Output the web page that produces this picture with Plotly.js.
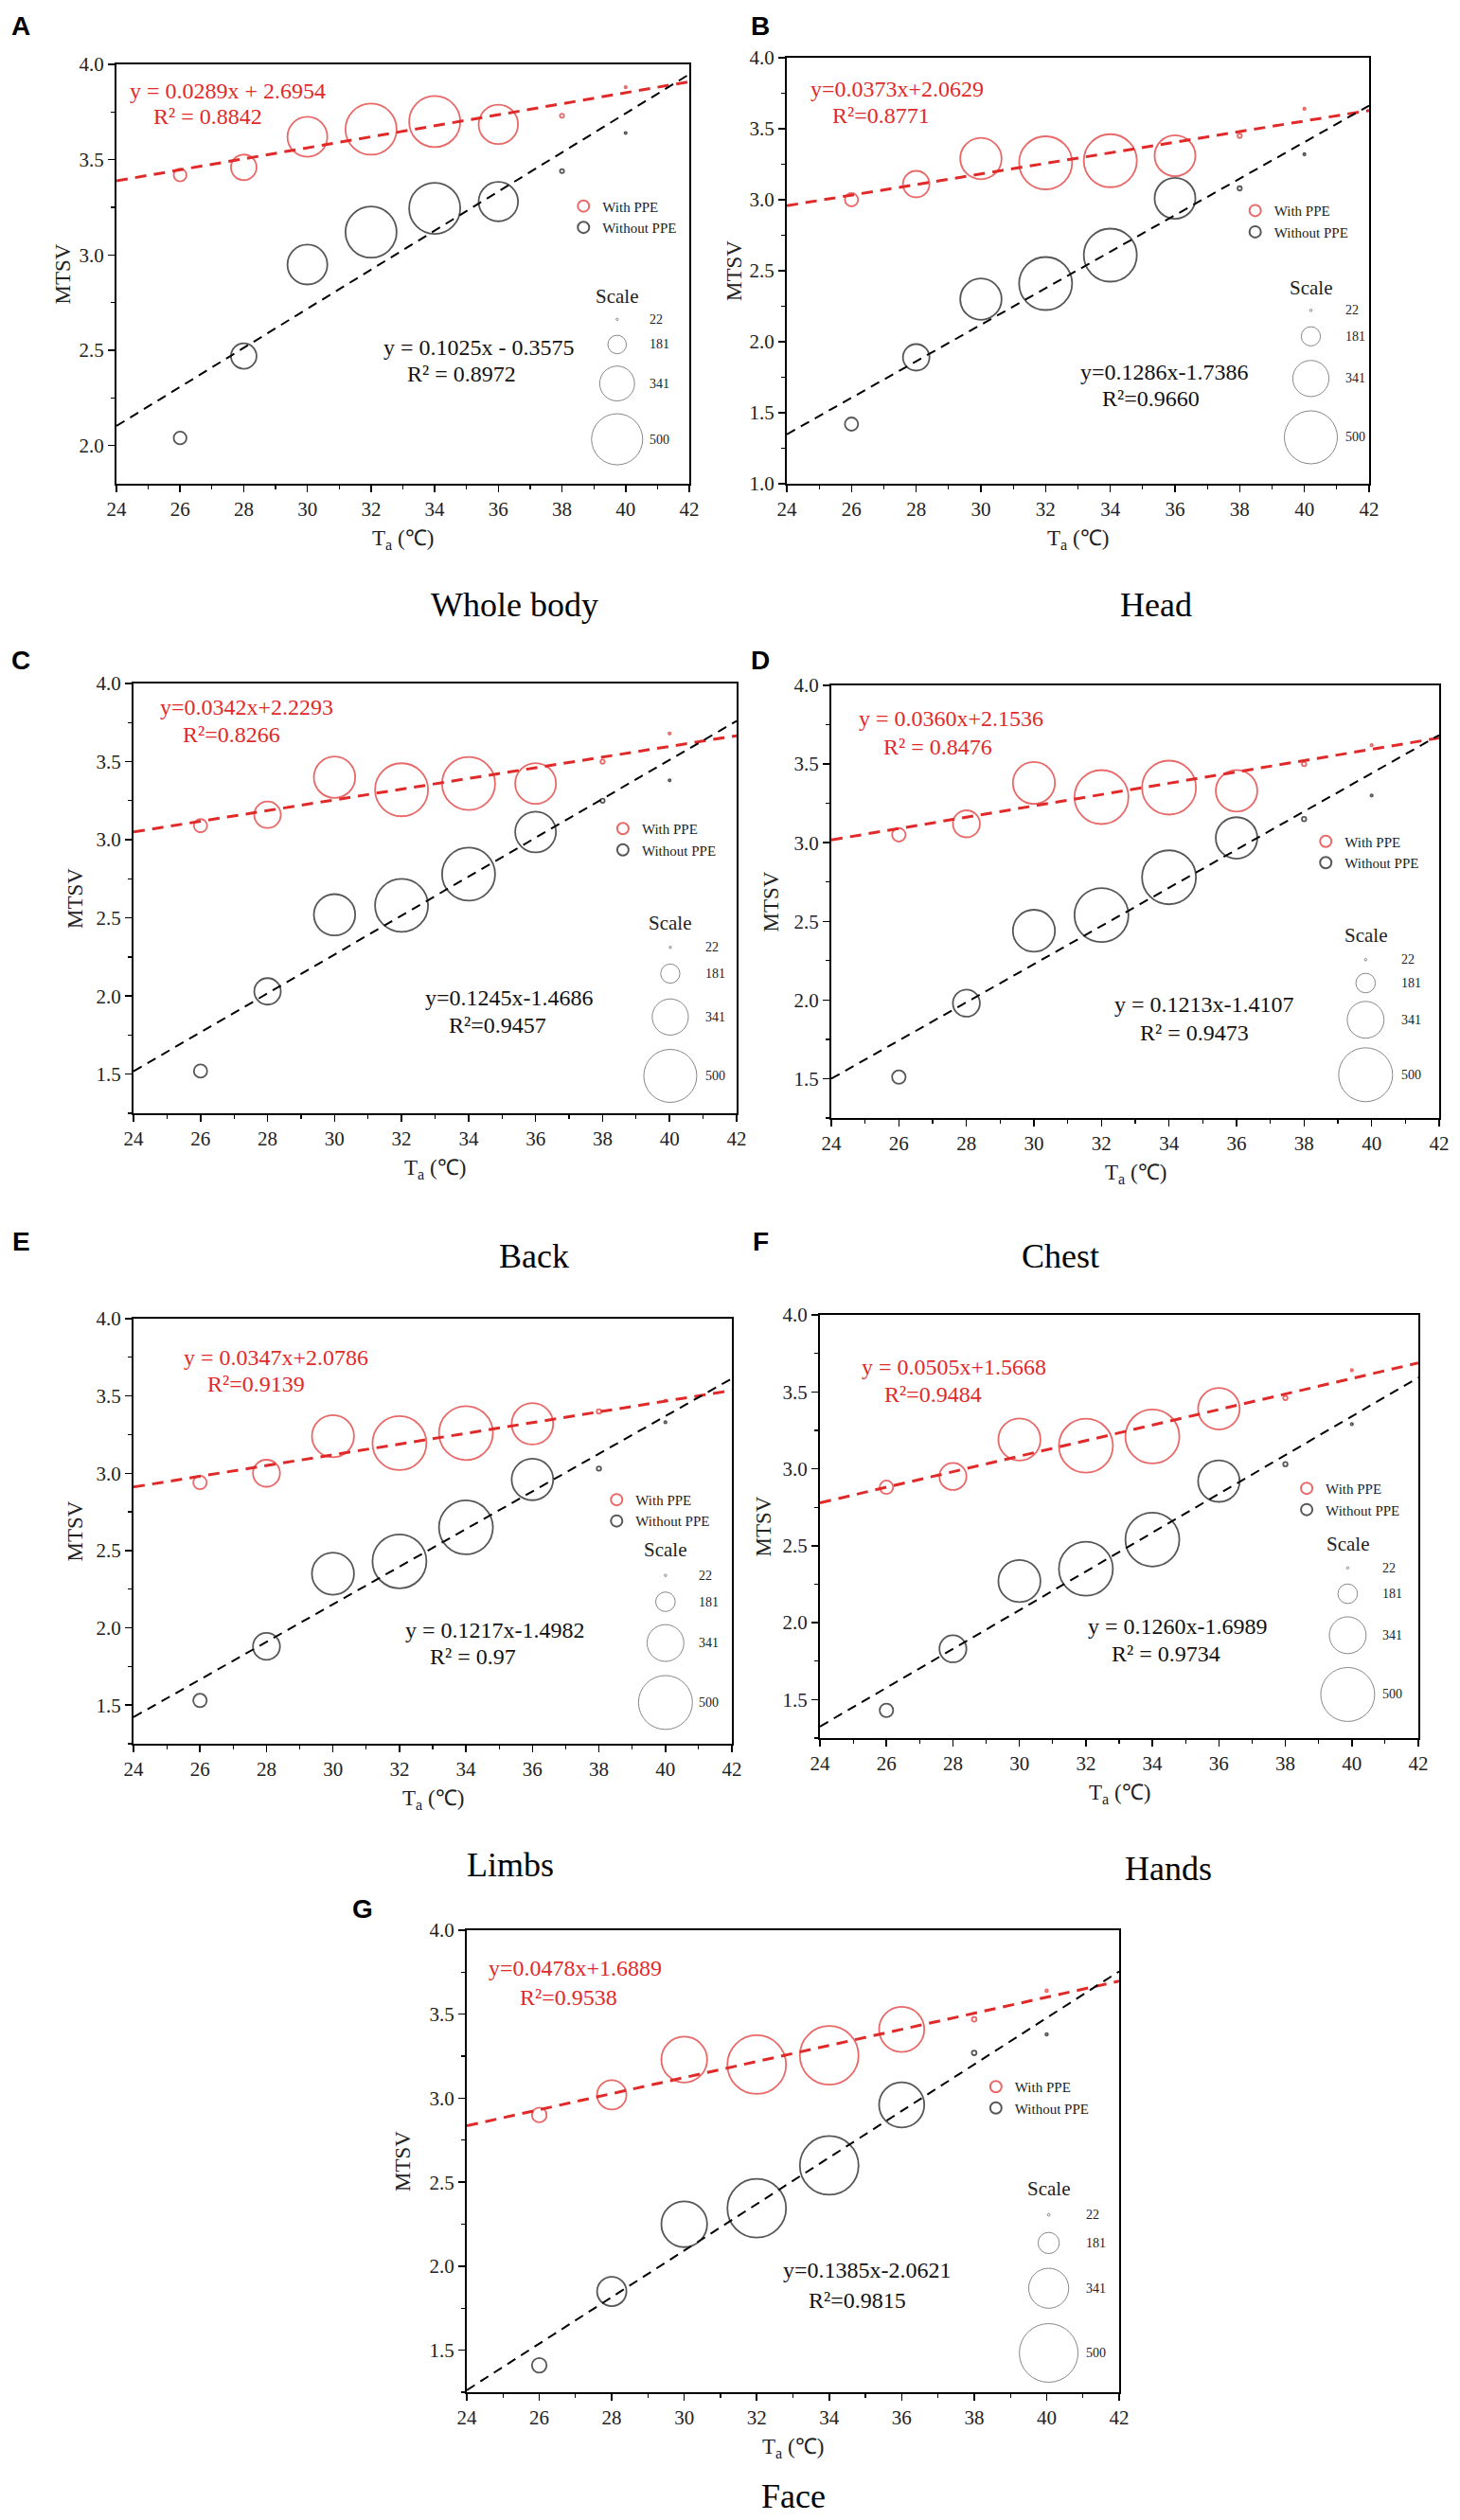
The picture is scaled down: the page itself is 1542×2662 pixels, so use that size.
<!DOCTYPE html>
<html>
<head>
<meta charset="utf-8">
<script src="https://cdn.plot.ly/plotly-3.0.1.min.js"></script>
<style>
  body { margin: 0; background: #fff; }
  #plot { width: 1542px; height: 2662px; }
</style>
</head>
<body>
<div id="plot"></div>
<script>
// ---- data ----
var temps = [26, 28, 30, 32, 34, 36, 38, 40];
var sampleSize = [125, 250, 390, 500, 500, 385, 40, 22];
var scaleValues = [22, 181, 341, 500];
var scaleLabels = ['22', '181', '341', '500'];
var fitX = [24, 42];

var panelLetters = ['A', 'B', 'C', 'D', 'E', 'F', 'G'];
var panelNames = ['Whole body', 'Head', 'Back', 'Chest', 'Limbs', 'Hands', 'Face'];

var wholeBodyWith    = [3.42, 3.46, 3.62, 3.66, 3.70, 3.685, 3.73, 3.88];
var wholeBodyWithout = [2.04, 2.47, 2.95, 3.12, 3.245, 3.28, 3.44, 3.64];
var headWith    = [3.00, 3.11, 3.29, 3.26, 3.275, 3.31, 3.45, 3.64];
var headWithout = [1.42, 1.89, 2.30, 2.41, 2.61, 3.01, 3.08, 3.32];
var backWith    = [3.09, 3.16, 3.40, 3.32, 3.36, 3.36, 3.50, 3.68];
var backWithout = [1.52, 2.03, 2.52, 2.58, 2.78, 3.05, 3.25, 3.38];
var chestWith    = [3.05, 3.12, 3.38, 3.29, 3.35, 3.33, 3.50, 3.62];
var chestWithout = [1.51, 1.98, 2.44, 2.54, 2.78, 3.03, 3.15, 3.30];
var limbsWith    = [2.94, 3.00, 3.24, 3.195, 3.26, 3.32, 3.40, 3.47];
var limbsWithout = [1.53, 1.88, 2.35, 2.43, 2.65, 2.96, 3.03, 3.33];
var handsWith    = [2.88, 2.95, 3.19, 3.15, 3.21, 3.39, 3.46, 3.64];
var handsWithout = [1.43, 1.83, 2.27, 2.35, 2.54, 2.92, 3.03, 3.29];
var faceWith    = [2.90, 3.02, 3.23, 3.20, 3.255, 3.41, 3.47, 3.64];
var faceWithout = [1.41, 1.85, 2.25, 2.345, 2.60, 2.96, 3.27, 3.38];

// fitted lines, value at T = 24 and T = 42
var fitWith    = [[3.389, 3.909], [2.958, 3.629], [3.050, 3.666], [3.018, 3.666], [2.911, 3.536], [2.779, 3.688], [2.836, 3.697]];
var fitWithout = [[2.103, 3.948], [1.348, 3.663], [1.519, 3.760], [1.500, 3.684], [1.422, 3.613], [1.325, 3.593], [1.262, 3.755]];

var eqWith = ['y = 0.0289x + 2.6954', 'y=0.0373x+2.0629', 'y=0.0342x+2.2293', 'y = 0.0360x+2.1536',
              'y = 0.0347x+2.0786', 'y = 0.0505x+1.5668', 'y=0.0478x+1.6889'];
var r2With = ['R² = 0.8842', 'R²=0.8771', 'R²=0.8266', 'R² = 0.8476', 'R²=0.9139', 'R²=0.9484', 'R²=0.9538'];
var eqWithout = ['y = 0.1025x - 0.3575', 'y=0.1286x-1.7386', 'y=0.1245x-1.4686', 'y = 0.1213x-1.4107',
                 'y = 0.1217x-1.4982', 'y = 0.1260x-1.6989', 'y=0.1385x-2.0621'];
var r2Without = ['R² = 0.8972', 'R²=0.9660', 'R²=0.9457', 'R² = 0.9473', 'R² = 0.97', 'R² = 0.9734', 'R²=0.9815'];

var withPPE = [wholeBodyWith, headWith, backWith, chestWith, limbsWith, handsWith, faceWith];
var withoutPPE = [wholeBodyWithout, headWithout, backWithout, chestWithout, limbsWithout, handsWithout, faceWithout];

// ---- layout (pixels of the 1542 x 2662 page) ----
var W = 1542, H = 2662;
var boxes = [ // left, right, top, bottom of each plot area
  [123, 728, 68, 511], [831, 1446, 61, 511],
  [141, 778, 722, 1176], [878, 1520, 724, 1181],
  [141, 773, 1393, 1842], [866, 1498, 1389, 1836],
  [493, 1182, 2039, 2527]];
var yRanges = [[1.8, 4], [1, 4], [1.25, 4], [1.25, 4], [1.25, 4], [1.25, 4], [1.25, 4]];
var bubble500 = [54, 56, 56, 57, 57, 57, 62];   // px diameter of a 500 bubble
var letterPos = [[22, 27], [803, 27], [22, 698], [803, 698], [22, 1311], [803, 1311], [383, 2016]];
var captionPos = [[543, 639], [1221, 639], [564, 1327], [1120, 1327], [539, 1970], [1234, 1974], [838, 2637]];
var yTitleGap = [57, 55, 62, 64, 62, 60, 68];
// positions inside the plot area, fractions of width / height
var eqWithPos = [[0.020, 0.937, 0.061, 0.875], [0.037, 0.927, 0.074, 0.864], [0.041, 0.944, 0.078, 0.880],
  [0.042, 0.923, 0.083, 0.858], [0.081, 0.908, 0.120, 0.846], [0.066, 0.878, 0.105, 0.813], [0.031, 0.918, 0.079, 0.854]];
var eqWithoutPos = [[0.463, 0.324, 0.504, 0.261], [0.500, 0.263, 0.538, 0.200], [0.480, 0.268, 0.519, 0.205],
  [0.463, 0.263, 0.504, 0.197], [0.451, 0.268, 0.492, 0.205], [0.445, 0.264, 0.484, 0.200], [0.482, 0.264, 0.521, 0.198]];
var legendPos = [[0.817, 0.674], [0.806, 0.653], [0.813, 0.674], [0.815, 0.651], [0.809, 0.586], [0.815, 0.602], [0.8125, 0.672]];
var scaleCx = [0.874, 0.900, 0.890, 0.879, 0.889, 0.882, 0.892];
var scaleTitleY = [0.448, 0.461, 0.442, 0.422, 0.457, 0.459, 0.441];
var scaleYs = [[0.392, 0.332, 0.239, 0.106], [0.407, 0.346, 0.247, 0.109], [0.386, 0.325, 0.224, 0.087],
  [0.366, 0.312, 0.227, 0.100], [0.396, 0.334, 0.237, 0.097], [0.402, 0.341, 0.243, 0.103], [0.384, 0.323, 0.225, 0.085]];
var scaleLabelX = [0.927, 0.956, 0.945, 0.935, 0.942, 0.937, 0.946];

var serif = '"Liberation Serif", "Times New Roman", Times, serif';
var sans = '"Liberation Sans", Arial, Helvetica, sans-serif';
var red = '#e02a2a';

var traces = [];
var annotations = [];
var layout = {
  width: W, height: H,
  margin: {l: 0, r: 0, t: 0, b: 0},
  paper_bgcolor: '#fff', plot_bgcolor: '#fff',
  showlegend: true,
  font: {family: serif, color: '#111'}
};

function paperX(px) { return px / W; }
function paperY(py) { return 1 - py / H; }

for (var i = 0; i < 7; i++) {
  var sfx = i === 0 ? '' : String(i + 1);
  var xa = 'x' + sfx, ya = 'y' + sfx;
  var lg = 'legend' + sfx;
  var b = boxes[i];
  var yr = yRanges[i];
  var sizeref = 500 / bubble500[i];

  layout['xaxis' + sfx] = {
    domain: [paperX(b[0]), paperX(b[1])], anchor: ya, range: [24, 42],
    tick0: 24, dtick: 2, ticks: 'outside', ticklen: 7, tickwidth: 1.5, tickcolor: '#000',
    minor: {dtick: 1, ticks: 'outside', ticklen: 4, tickwidth: 1.2, tickcolor: '#000', showgrid: false},
    showline: true, linewidth: 2, linecolor: '#000', mirror: true,
    showgrid: false, zeroline: false,
    tickfont: {family: serif, size: 21, color: '#222'}
  };
  layout['yaxis' + sfx] = {
    domain: [paperY(b[3]), paperY(b[2])], anchor: xa, range: yr,
    tick0: 0, dtick: 0.5, tickformat: '.1f', ticks: 'outside', ticklen: 7, tickwidth: 1.5, tickcolor: '#000',
    minor: {dtick: 0.25, ticks: 'outside', ticklen: 4, tickwidth: 1.2, tickcolor: '#000', showgrid: false},
    showline: true, linewidth: 2, linecolor: '#000', mirror: true,
    showgrid: false, zeroline: false,
    tickfont: {family: serif, size: 21, color: '#222'}
  };

  var pw = b[1] - b[0], ph = b[3] - b[2];
  layout[lg] = {
    x: paperX(b[0] + legendPos[i][0] * pw - 21), xanchor: 'left',
    y: paperY(b[3] - legendPos[i][1] * ph - 11), yanchor: 'top',
    bgcolor: 'rgba(0,0,0,0)', borderwidth: 0,
    font: {family: serif, size: 15, color: '#222'},
    itemsizing: 'constant', tracegroupgap: 0, traceorder: 'normal'
  };

  // fitted lines
  traces.push({
    x: fitX, y: fitWith[i], xaxis: xa, yaxis: ya, mode: 'lines',
    line: {color: red, width: 3, dash: '12px,8px'}, showlegend: false, hoverinfo: 'skip'
  });
  traces.push({
    x: fitX, y: fitWithout[i], xaxis: xa, yaxis: ya, mode: 'lines',
    line: {color: '#000', width: 2, dash: '10px,7px'}, showlegend: false, hoverinfo: 'skip'
  });

  // bubbles
  traces.push({
    x: temps, y: withPPE[i], xaxis: xa, yaxis: ya, mode: 'markers', name: 'With PPE', legend: lg,
    marker: {size: sampleSize, sizemode: 'diameter', sizeref: sizeref, color: 'rgba(0,0,0,0)',
             line: {color: red, width: 1.8}}
  });
  traces.push({
    x: temps, y: withoutPPE[i], xaxis: xa, yaxis: ya, mode: 'markers', name: 'Without PPE', legend: lg,
    marker: {size: sampleSize, sizemode: 'diameter', sizeref: sizeref, color: 'rgba(0,0,0,0)',
             line: {color: '#111', width: 1.8}}
  });

  // size key
  var sx = [], sy = [];
  for (var k = 0; k < scaleValues.length; k++) {
    sx.push(24 + scaleCx[i] * 18);
    sy.push(yr[0] + scaleYs[i][k] * (yr[1] - yr[0]));
  }
  traces.push({
    x: sx, y: sy, xaxis: xa, yaxis: ya, mode: 'markers', showlegend: false, hoverinfo: 'skip',
    marker: {size: scaleValues, sizemode: 'diameter', sizeref: sizeref, color: 'rgba(0,0,0,0)',
             line: {color: '#555', width: 1}}
  });

  var xd = xa + ' domain', yd = ya + ' domain';
  function inner(text, fx, fy, size, color, anchor) {
    annotations.push({xref: xd, yref: yd, x: fx, y: fy, text: text, showarrow: false,
      xanchor: anchor, yanchor: 'middle', font: {family: serif, size: size, color: color}});
  }
  inner(eqWith[i], eqWithPos[i][0], eqWithPos[i][1], 24, red, 'left');
  inner(r2With[i], eqWithPos[i][2], eqWithPos[i][3], 24, red, 'left');
  inner(eqWithout[i], eqWithoutPos[i][0], eqWithoutPos[i][1], 24, '#111', 'left');
  inner(r2Without[i], eqWithoutPos[i][2], eqWithoutPos[i][3], 24, '#111', 'left');
  inner('Scale', scaleCx[i], scaleTitleY[i], 21, '#222', 'center');
  for (var k2 = 0; k2 < scaleLabels.length; k2++) {
    inner(scaleLabels[k2], scaleLabelX[i], scaleYs[i][k2], 14, '#222', 'left');
  }

  // axis titles
  annotations.push({xref: 'paper', yref: 'paper', x: paperX((b[0] + b[1]) / 2), y: paperY(b[3] + 59),
    text: 'T<sub>a</sub> (℃)', showarrow: false, xanchor: 'center', yanchor: 'middle',
    font: {family: serif, size: 23, color: '#222'}});
  annotations.push({xref: 'paper', yref: 'paper', x: paperX(b[0] - yTitleGap[i]), y: paperY((b[2] + b[3]) / 2),
    text: 'MTSV', textangle: -90, showarrow: false, xanchor: 'center', yanchor: 'middle',
    font: {family: serif, size: 23, color: '#222'}});

  // panel letter and caption
  annotations.push({xref: 'paper', yref: 'paper', x: paperX(letterPos[i][0]), y: paperY(letterPos[i][1]),
    text: '<b>' + panelLetters[i] + '</b>', showarrow: false, xanchor: 'center', yanchor: 'middle',
    font: {family: sans, size: 28, color: '#000'}});
  annotations.push({xref: 'paper', yref: 'paper', x: paperX(captionPos[i][0]), y: paperY(captionPos[i][1]),
    text: panelNames[i], showarrow: false, xanchor: 'center', yanchor: 'middle',
    font: {family: serif, size: 36, color: '#000'}});
}

layout.annotations = annotations;

Plotly.newPlot('plot', traces, layout, {staticPlot: true});
</script>
</body>
</html>
